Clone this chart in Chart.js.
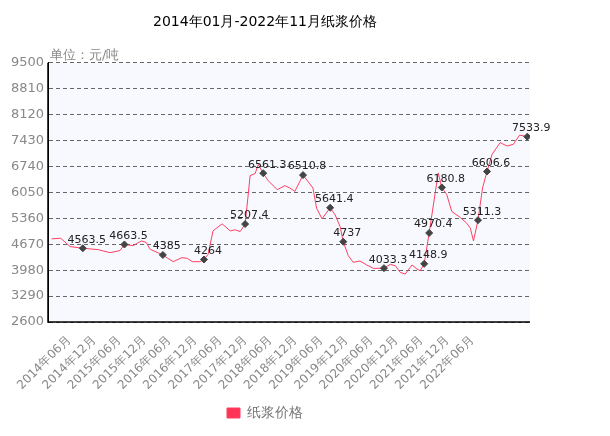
<!DOCTYPE html>
<html lang="zh">
<head>
<meta charset="UTF-8">
<title>纸浆价格</title>
<script src="https://cdn.jsdelivr.net/npm/chart.js"></script>
<style>
  body { margin: 0; background: #fff; }
  #wrap { width: 610px; height: 436px; }
</style>
</head>
<body>
<div id="wrap"><canvas id="c" width="610" height="436"></canvas></div>
<script>
// month offset from 2014-01, price (元/吨)
const months = [0.8, 2.8, 4.9, 7.7, 11.1, 13.7, 15.9, 16.9, 18.8, 20.7, 21.7, 22.6, 25.4, 26.5, 27.7, 29.6, 30.8, 31.9, 33.6, 34.5,
  35.4, 36.5, 38.5, 40.3, 41.4, 42.5, 43.6, 44.2, 44.7, 45.8, 46.5, 47.6, 48.7, 50.7, 52.4, 53.5, 54.6, 56.4, 58.6, 59.4,
  60.6, 62.4, 63.5, 64.6, 65.3, 66.4, 67.5, 69, 70.5, 72, 74.3, 75.7, 76.8, 77.9, 79, 80.5, 81.6, 82.3, 83.2, 84.3,
  86.3, 87.1, 88.2, 89.3, 91.2, 92.6, 93.4, 94.1, 95.1, 96.1, 97.1, 98.2, 100, 101.5, 102.9, 104.3, 106];
const prices = [4812, 4830, 4607, 4563.5, 4526, 4446, 4500, 4663.5, 4633, 4758, 4720, 4535, 4385, 4295, 4206, 4313, 4295, 4206, 4206, 4264,
  4401, 5026, 5213, 5026, 5053, 5008, 5207.4, 5898, 6497, 6550, 6791, 6561.3, 6363, 6122, 6229, 6166, 6078, 6510.8, 6166, 5631,
  5347, 5641.4, 5454, 5141, 4737, 4370, 4188, 4224, 4117, 4027, 4033.3, 4134, 4099, 3920, 3876, 4117, 4010, 3965, 4148.9, 4970.4,
  6567, 6180.8, 5988, 5542, 5382, 5231, 5097, 4758, 5311.3, 6166, 6606.6, 7062, 7374, 7285, 7329, 7575, 7533.9];
// indexes of the labelled points
const markIdx = [3, 7, 12, 19, 26, 31, 37, 41, 44, 50, 58, 59, 61, 68, 70, 76];
const xLabels = ['2014年06月', '2014年12月', '2015年06月', '2015年12月', '2016年06月', '2016年12月', '2017年06月', '2017年12月',
  '2018年06月', '2018年12月', '2019年06月', '2019年12月', '2020年06月', '2020年12月', '2021年06月', '2021年12月', '2022年06月'];
const xTickPos = xLabels.map((_, k) => 4.65 + 5.57 * k);
const yTicks = [2600, 3290, 3980, 4670, 5360, 6050, 6740, 7430, 8120, 8810, 9500];

const points = months.map((m, i) => ({ x: m, y: prices[i] }));
const isMark = prices.map((v, i) => markIdx.includes(i));

const bgPlugin = {
  id: 'bg',
  beforeDraw(chart) {
    const { ctx, chartArea: a } = chart;
    ctx.save();
    ctx.fillStyle = '#f8f9ff';
    ctx.fillRect(a.left, a.top, a.right - a.left, a.bottom - a.top);
    ctx.restore();
  },
  afterDatasetsDraw(chart) {
    const { ctx, chartArea: a } = chart;
    const meta = chart.getDatasetMeta(0);
    ctx.save();
    ctx.font = '11px "DejaVu Sans", sans-serif';
    ctx.fillStyle = '#222';
    ctx.textAlign = 'center';
    ctx.textBaseline = 'bottom';
    meta.data.forEach((p, i) => {
      if (isMark[i]) ctx.fillText(String(prices[i]), p.x + 4, p.y - 3);
    });
    ctx.strokeStyle = '#000';
    ctx.lineWidth = 1.5;
    ctx.beginPath();
    ctx.moveTo(a.left, a.top);
    ctx.lineTo(a.left, a.bottom);
    ctx.lineTo(a.right, a.bottom);
    ctx.stroke();
    ctx.fillStyle = '#888';
    ctx.font = '13px "DejaVu Sans", sans-serif';
    ctx.textAlign = 'left';
    ctx.fillText('单位：元/吨', a.left + 2, a.top - 1);
    ctx.restore();
  }
};

new Chart(document.getElementById('c'), {
  type: 'line',
  data: {
    datasets: [{
      label: '纸浆价格',
      data: points,
      borderColor: '#ff4060',
      backgroundColor: '#ff3355',
      borderWidth: 1,
      tension: 0,
      pointRadius: isMark.map(m => m ? 3.5 : 0),
      pointStyle: 'rectRot',
      pointBackgroundColor: '#444',
      pointBorderColor: '#444'
    }]
  },
  options: {
    responsive: false,
    animation: false,
    layout: { padding: { top: 0, right: 80, bottom: 6, left: 0 } },
    plugins: {
      title: {
        display: true,
        text: '2014年01月-2022年11月纸浆价格',
        color: '#000',
        font: { size: 14, family: '"DejaVu Sans", sans-serif', weight: 'normal' },
        padding: { top: 14, bottom: 32 }
      },
      legend: {
        position: 'bottom',
        labels: {
          color: '#777',
          boxWidth: 13,
          boxHeight: 10,
          font: { size: 14, family: '"DejaVu Sans", sans-serif' }
        }
      },
      tooltip: { enabled: false }
    },
    scales: {
      x: {
        type: 'linear',
        min: 0,
        max: 106.6,
        afterBuildTicks(axis) { axis.ticks = xTickPos.map(v => ({ value: v })); },
        afterFit(axis) { axis.height = 74; },
        ticks: {
          autoSkip: false,
          maxRotation: 45,
          minRotation: 45,
          color: '#888',
          font: { size: 12, family: '"DejaVu Sans", sans-serif' },
          callback(v) { const k = xTickPos.indexOf(v); return k >= 0 ? xLabels[k] : ''; }
        },
        grid: { display: false },
        border: { display: false }
      },
      y: {
        min: 2600,
        max: 9500,
        afterBuildTicks(axis) { axis.ticks = yTicks.map(v => ({ value: v })); },
        afterFit(axis) { axis.width = 48; },
        ticks: {
          color: '#888',
          font: { size: 13, family: '"DejaVu Sans", sans-serif' },
          padding: 4,
          callback(v) { return String(v); }
        },
        grid: { color: '#666', drawTicks: false },
        border: { display: true, color: '#000', dash: [4, 3] }
      }
    }
  },
  plugins: [bgPlugin]
});
</script>
</body>
</html>
